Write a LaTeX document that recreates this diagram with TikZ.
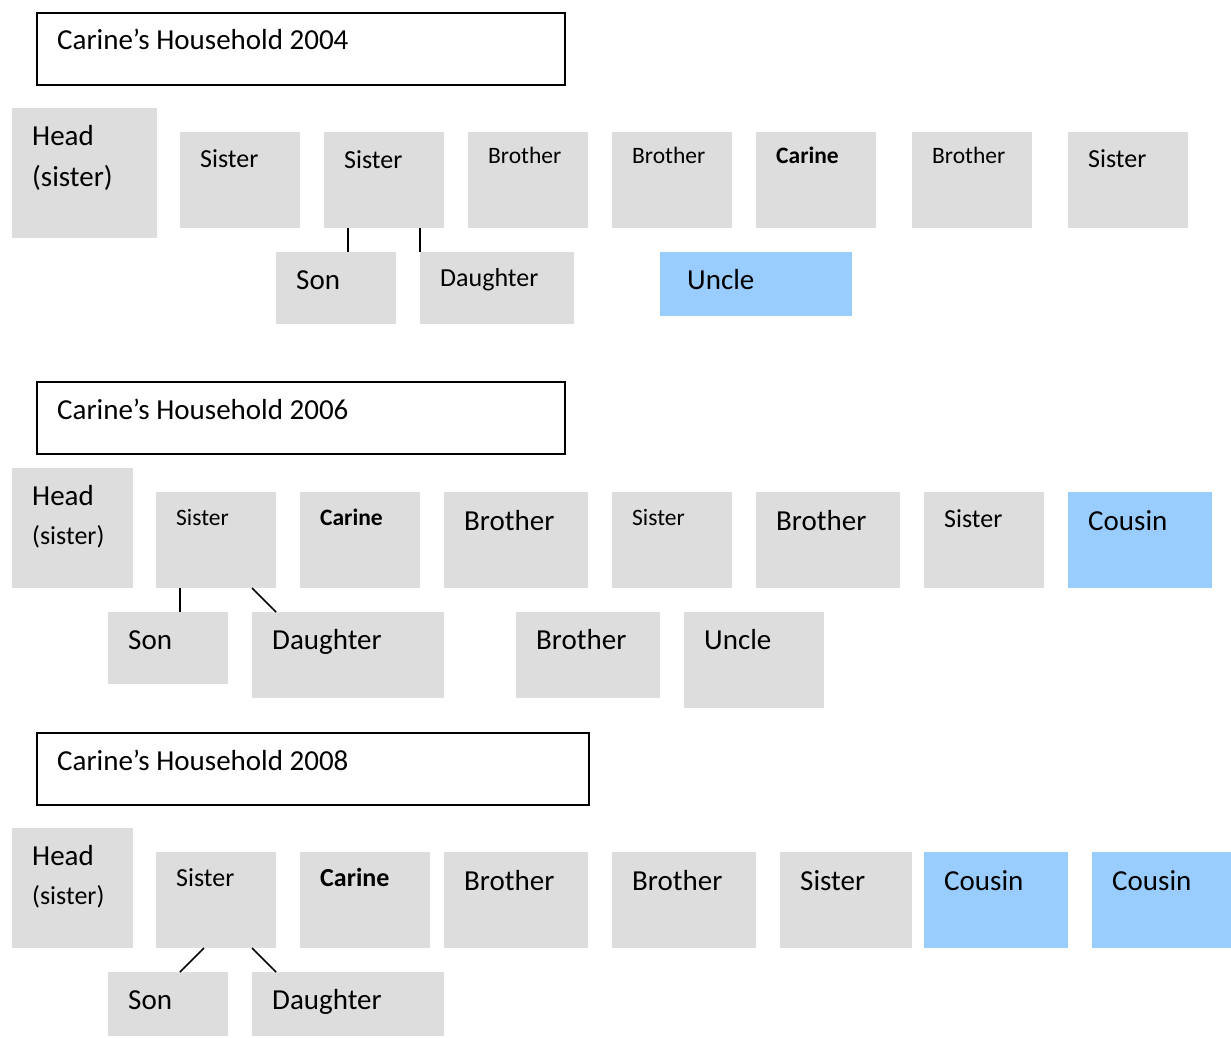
\documentclass[tikz,border=0pt]{standalone}
\usepackage{fontspec}
\setmainfont{Carlito}
\usetikzlibrary{calc}
\definecolor{boxgrey}{HTML}{DDDDDD}
\definecolor{boxblue}{HTML}{99CCFF}
% a member box: name, left, top, width, height, style
\newcommand\famrect[6]{\node[#6, minimum width=#4pt, minimum height=#5pt] (#1) at (#2,#3) {};}
\begin{document}
\begin{tikzpicture}[x=1pt,y=-1pt,
  member/.style={fill=boxgrey, draw=none, inner sep=0pt, outer sep=0pt, anchor=north west},
  visitor/.style={member, fill=boxblue},
  titlebox/.style={draw=black, line width=1.6pt, fill=white, inner sep=0pt, anchor=north west},
  big/.style={font=\fontsize{29}{34}\selectfont},
  mid/.style={font=\fontsize{26}{31}\selectfont},
  small/.style={font=\fontsize{23.5}{28}\selectfont},
  smallbold/.style={font=\fontsize{23.5}{28}\selectfont\bfseries},
  midbold/.style={font=\fontsize{26}{31}\selectfont\bfseries},
  lbl/.style={anchor=base west, inner sep=0pt},
  link/.style={line width=1.6pt, black}]
\useasboundingbox (0,0) rectangle (1231,1038);

% ---------- 2004 ----------
\famrect{t1}{36}{12}{528}{72}{titlebox}
\node[lbl, big] (t1text) at (57,50) {Carine’s Household 2004};

\famrect{r1head}{12}{108}{145}{130}{member}
\famrect{r1sisA}{180}{132}{120}{96}{member}
\famrect{r1sisB}{324}{132}{120}{96}{member}
\famrect{r1broA}{468}{132}{120}{96}{member}
\famrect{r1broB}{612}{132}{120}{96}{member}
\famrect{r1carine}{756}{132}{120}{96}{member}
\famrect{r1broC}{912}{132}{120}{96}{member}
\famrect{r1sisC}{1068}{132}{120}{96}{member}
\famrect{r1son}{276}{252}{120}{72}{member}
\famrect{r1dau}{420}{252}{154}{72}{member}
\famrect{r1uncle}{660}{252}{192}{64}{visitor}

\node[lbl, big] (r1headA) at (32,146) {Head};
\node[lbl, big] (r1headB) at (32,186) {(sister)};
\node[lbl, mid] (r1sisAt) at (200,167) {Sister};
\node[lbl, mid] (r1sisBt) at (344,168) {Sister};
\node[lbl, small] (r1broAt) at (488,164) {Brother};
\node[lbl, small] (r1broBt) at (632,164) {Brother};
\node[lbl, smallbold] (r1carinet) at (776,164) {Carine};
\node[lbl, small] (r1broCt) at (932,164) {Brother};
\node[lbl, mid] (r1sisCt) at (1088,167) {Sister};
\node[lbl, big] (r1sont) at (296,289) {Son};
\node[lbl, mid] (r1daut) at (440,286) {Daughter};
\node[lbl, big] (r1unclet) at (687,289) {Uncle};

\draw[link] ($(r1sisB.south west)+(24,0)$) -- ($(r1son.north west)+(72,0)$);
\draw[link] ($(r1sisB.south west)+(96,0)$) -- (r1dau.north west);

% ---------- 2006 ----------
\famrect{t2}{36}{381}{528}{72}{titlebox}
\node[lbl, big] (t2text) at (57,419) {Carine’s Household 2006};

\famrect{r2head}{12}{468}{121}{120}{member}
\famrect{r2sis}{156}{492}{120}{96}{member}
\famrect{r2carine}{300}{492}{120}{96}{member}
\famrect{r2broA}{444}{492}{144}{96}{member}
\famrect{r2sisB}{612}{492}{120}{96}{member}
\famrect{r2broB}{756}{492}{144}{96}{member}
\famrect{r2sisC}{924}{492}{120}{96}{member}
\famrect{r2cousin}{1068}{492}{144}{96}{visitor}
\famrect{r2son}{108}{612}{120}{72}{member}
\famrect{r2dau}{252}{612}{192}{86}{member}
\famrect{r2broC}{516}{612}{144}{86}{member}
\famrect{r2uncle}{684}{612}{140}{96}{member}

\node[lbl, big] (r2headA) at (32,505) {Head};
\node[lbl, mid] (r2headB) at (32,544) {(sister)};
\node[lbl, small] (r2sist) at (176,525) {Sister};
\node[lbl, smallbold] (r2carinet) at (320,525) {Carine};
\node[lbl, big] (r2broAt) at (464,530) {Brother};
\node[lbl, small] (r2sisBt) at (632,525) {Sister};
\node[lbl, big] (r2broBt) at (776,530) {Brother};
\node[lbl, mid] (r2sisCt) at (944,527) {Sister};
\node[lbl, big] (r2cousint) at (1088,530) {Cousin};
\node[lbl, big] (r2sont) at (128,649) {Son};
\node[lbl, big] (r2daut) at (272,649) {Daughter};
\node[lbl, big] (r2broCt) at (536,649) {Brother};
\node[lbl, big] (r2unclet) at (704,649) {Uncle};

\draw[link] ($(r2sis.south west)+(24,0)$) -- ($(r2son.north west)+(72,0)$);
\draw[link] ($(r2sis.south west)+(96,0)$) -- ($(r2dau.north west)+(24,0)$);

% ---------- 2008 ----------
\famrect{t3}{36}{732}{552}{72}{titlebox}
\node[lbl, big] (t3text) at (57,770) {Carine’s Household 2008};

\famrect{r3head}{12}{828}{121}{120}{member}
\famrect{r3sis}{156}{852}{120}{96}{member}
\famrect{r3carine}{300}{852}{130}{96}{member}
\famrect{r3broA}{444}{852}{144}{96}{member}
\famrect{r3broB}{612}{852}{144}{96}{member}
\famrect{r3sisB}{780}{852}{132}{96}{member}
\famrect{r3cousinA}{924}{852}{144}{96}{visitor}
\famrect{r3cousinB}{1092}{852}{139}{96}{visitor}
\famrect{r3son}{108}{972}{120}{64}{member}
\famrect{r3dau}{252}{972}{192}{64}{member}

\node[lbl, big] (r3headA) at (32,865) {Head};
\node[lbl, mid] (r3headB) at (32,904) {(sister)};
\node[lbl, mid] (r3sist) at (176,886) {Sister};
\node[lbl, midbold] (r3carinet) at (320,886) {Carine};
\node[lbl, big] (r3broAt) at (464,890) {Brother};
\node[lbl, big] (r3broBt) at (632,890) {Brother};
\node[lbl, big] (r3sisBt) at (800,890) {Sister};
\node[lbl, big] (r3cousinAt) at (944,890) {Cousin};
\node[lbl, big] (r3cousinBt) at (1112,890) {Cousin};
\node[lbl, big] (r3sont) at (128,1009) {Son};
\node[lbl, big] (r3daut) at (272,1009) {Daughter};

\draw[link] ($(r3sis.south west)+(48,0)$) -- ($(r3son.north west)+(72,0)$);
\draw[link] ($(r3sis.south west)+(96,0)$) -- ($(r3dau.north west)+(24,0)$);
\end{tikzpicture}
\end{document}
